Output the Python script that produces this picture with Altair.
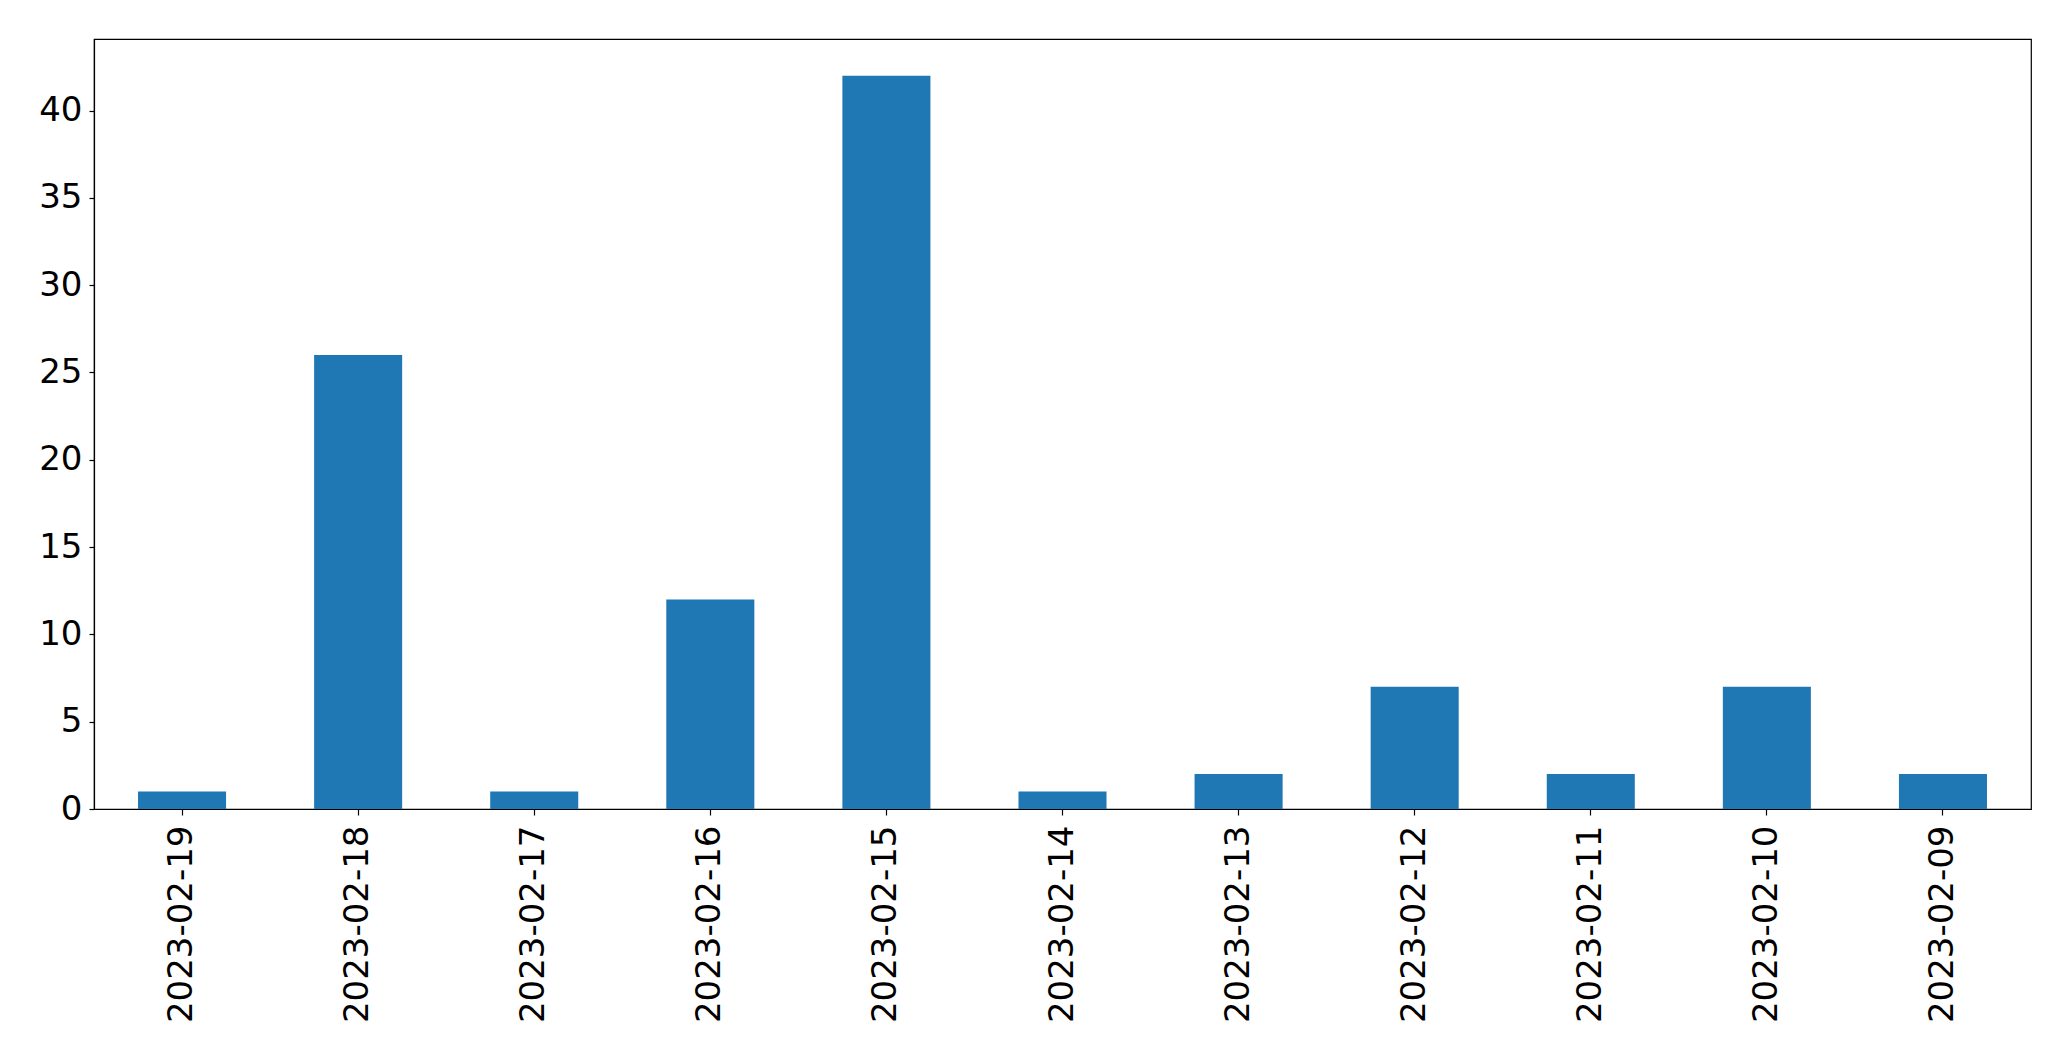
import altair as alt
import pandas as pd

dates = ["2023-02-19", "2023-02-18", "2023-02-17", "2023-02-16", "2023-02-15",
         "2023-02-14", "2023-02-13", "2023-02-12", "2023-02-11", "2023-02-10", "2023-02-09"]
counts = [1, 26, 1, 12, 42, 1, 2, 7, 2, 7, 2]

df = pd.DataFrame({"date": dates, "count": counts})

FONT = "DejaVu Sans"
FS = 34

chart = alt.Chart(df).mark_bar(color="#1f77b4").encode(
    x=alt.X("date:N", sort=None, title=None,
            scale=alt.Scale(paddingInner=0.5, paddingOuter=0.25),
            axis=alt.Axis(labelAngle=-90, labelFontSize=FS, labelFont=FONT, labelColor="black",
                          tickColor="black", tickSize=6, labelPadding=10, labelLimit=1000,
                          domainColor="black", labelBaseline="middle", labelAlign="right")),
    y=alt.Y("count:Q", title=None,
            scale=alt.Scale(domain=[0, 44.1], nice=False),
            axis=alt.Axis(values=[0, 5, 10, 15, 20, 25, 30, 35, 40], grid=False,
                          labelFontSize=FS, labelFont=FONT, labelColor="black",
                          tickColor="black", tickSize=5, labelPadding=7,
                          domainColor="black")),
).properties(
    width=1937, height=770,
    autosize=alt.AutoSizeParams(type="none"),
    padding={"left": 86, "top": 31, "right": 30, "bottom": 240},
).configure_view(
    stroke="black", strokeWidth=1.2
).configure_axis(
    domainWidth=1.2, tickWidth=1.2
)

chart.save("out.html", embed_options={"renderer": "svg", "actions": False})
